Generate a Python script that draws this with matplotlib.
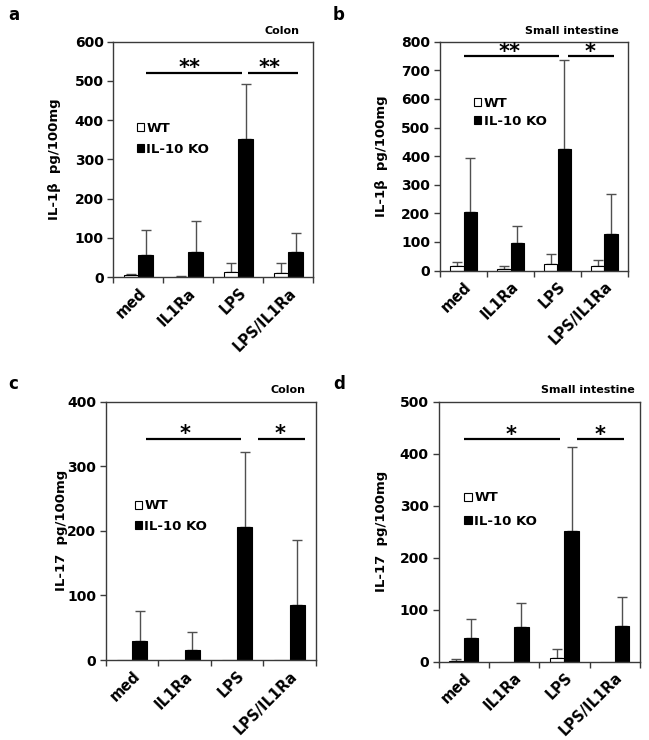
import matplotlib
matplotlib.use("Agg")
import matplotlib.pyplot as plt
import numpy as np
from matplotlib.ticker import FixedLocator, MultipleLocator

plt.rcParams["font.family"] = ["DejaVu Sans"]
plt.rcParams["font.weight"] = "bold"

# ---------------------------------------------------------------------------
# Data
# ---------------------------------------------------------------------------
categories = ["med", "IL1Ra", "LPS", "LPS/IL1Ra"]

# a: IL-1b, colon
a_wt = [4, 1, 14, 11]
a_wt_err = [3, 2, 22, 25]
a_ko = [57, 65, 353, 65]
a_ko_err = [63, 77, 139, 47]

# b: IL-1b, small intestine
b_wt = [14, 5, 21, 16]
b_wt_err = [17, 12, 36, 21]
b_ko = [206, 97, 424, 126]
b_ko_err = [189, 57, 311, 140]

# c: IL-17, colon
c_wt = [0, 0, 0, 0]
c_wt_err = [0, 0, 0, 0]
c_ko = [30, 16, 206, 85]
c_ko_err = [46, 27, 116, 101]

# d: IL-17, small intestine
d_wt = [2, 0, 8, 0]
d_wt_err = [4, 0, 17, 0]
d_ko = [45, 67, 251, 69]
d_ko_err = [38, 46, 161, 56]

# significance brackets: (x start, x end, star x, label), all at one height
a_sig_y = 521
a_sig = [(0.15, 2.07, 1.03, "**"), (2.20, 3.19, 2.63, "**")]
b_sig_y = 750
b_sig = [(0.01, 2.03, 0.97, "**"), (2.22, 3.20, 2.69, "*")]
c_sig_y = 343
c_sig = [(0.26, 2.07, 1.01, "*"), (2.39, 3.29, 2.82, "*")]
d_sig_y = 428
d_sig = [(0.01, 1.91, 0.94, "*"), (2.24, 3.18, 2.70, "*")]

W, H = 649, 740
fig = plt.figure(figsize=(W / 100, H / 100), dpi=100)


def px_axes(left, top, right, bottom):
    """Add axes from pixel edges of the reference picture."""
    return fig.add_axes([left / W, 1 - bottom / H, (right - left) / W, (bottom - top) / H])


def draw_panel(ax, wt, wt_err, ko, ko_err, ymax, ylabel, title, title_x,
               sig_y, sig, leg_xy, leg_space, ylab_x):
    x = np.arange(len(categories))
    w = 0.29
    edge = "#3a3a3a"
    ax.bar(x - w / 2, wt, w, color="white", edgecolor="black", linewidth=0.8,
           label="WT", zorder=2)
    ax.bar(x + w / 2, ko, w, color="black", edgecolor="black", linewidth=0.8,
           label="IL-10 KO", zorder=2)

    # upward-only error bars, skipped where there is nothing to show
    for xs, vals, errs in ((x - w / 2, wt, wt_err), (x + w / 2, ko, ko_err)):
        vals = np.asarray(vals, float)
        errs = np.asarray(errs, float)
        keep = errs > 0
        if keep.any():
            ax.errorbar(xs[keep], vals[keep],
                        yerr=[np.zeros(keep.sum()), errs[keep]],
                        fmt="none", ecolor="#505050", elinewidth=1.0,
                        capsize=3.5, capthick=1.0, zorder=1)

    for x0, x1, xs, lab in sig:
        ax.plot([x0, x1], [sig_y, sig_y], color="black", lw=1.6,
                solid_capstyle="butt", clip_on=False)
        ax.annotate(lab, (xs, sig_y), xytext=(0, -4), textcoords="offset points",
                    ha="center", va="bottom", fontsize=15, fontweight="bold")

    ax.set_xlim(-0.5, len(categories) - 0.5)
    ax.set_ylim(0, ymax)
    ax.yaxis.set_major_locator(MultipleLocator(100))
    ax.set_xticks(x)
    ax.set_xticklabels(categories, rotation=45, ha="right",
                       rotation_mode="anchor", fontsize=10.5, fontweight="bold")
    ax.xaxis.set_minor_locator(FixedLocator(np.arange(-0.5, len(categories), 1.0)))
    ax.tick_params(axis="x", which="major", length=0, pad=6)
    ax.tick_params(axis="x", which="minor", length=4, width=1, color=edge,
                   direction="out")
    ax.tick_params(axis="y", length=4, width=1, color=edge, direction="out",
                   labelsize=10, pad=3)
    for lab in ax.get_yticklabels():
        lab.set_fontweight("bold")
    for sp in ax.spines.values():
        sp.set_color(edge)
        sp.set_linewidth(1.0)

    ax.set_ylabel(ylabel, fontsize=9.5, fontweight="bold")
    ax.yaxis.set_label_coords(ylab_x, 0.5)
    ax.text(title_x, 1.025, title, transform=ax.transAxes, ha="right",
            va="bottom", fontsize=8, fontweight="bold")

    ax.legend(loc="upper left", bbox_to_anchor=leg_xy, frameon=False,
              borderpad=0, borderaxespad=0, handlelength=0.55,
              handleheight=0.55, handletextpad=0.2, labelspacing=leg_space,
              prop={"size": 9.5, "weight": "bold"})


ax_a = px_axes(113.3, 41.7, 313.3, 277.0)
ax_b = px_axes(440.0, 41.7, 628.0, 270.5)
ax_c = px_axes(105.8, 401.7, 316.0, 660.0)
ax_d = px_axes(438.5, 401.7, 640.0, 661.7)

draw_panel(ax_a, a_wt, a_wt_err, a_ko, a_ko_err, 600, "IL-1β  pg/100mg",
           "Colon", 0.93, a_sig_y, a_sig, (0.116, 0.659), 0.6, -0.26)
draw_panel(ax_b, b_wt, b_wt_err, b_ko, b_ko_err, 800, "IL-1β  pg/100mg",
           "Small intestine", 0.95, b_sig_y, b_sig, (0.18, 0.76), 0.4, -0.275)
draw_panel(ax_c, c_wt, c_wt_err, c_ko, c_ko_err, 400, "IL-17  pg/100mg",
           "Colon", 0.95, c_sig_y, c_sig, (0.137, 0.622), 0.55, -0.18)
draw_panel(ax_d, d_wt, d_wt_err, d_ko, d_ko_err, 500, "IL-17  pg/100mg",
           "Small intestine", 0.975, d_sig_y, d_sig, (0.129, 0.655), 0.8, -0.25)

for letter, (lx, ly) in zip("abcd", [(8, 15), (333, 15), (8, 384), (333, 384)]):
    fig.text(lx / W, 1 - ly / H, letter, ha="left", va="center",
             fontsize=12, fontweight="bold")

fig.savefig("out.png", dpi=100)
